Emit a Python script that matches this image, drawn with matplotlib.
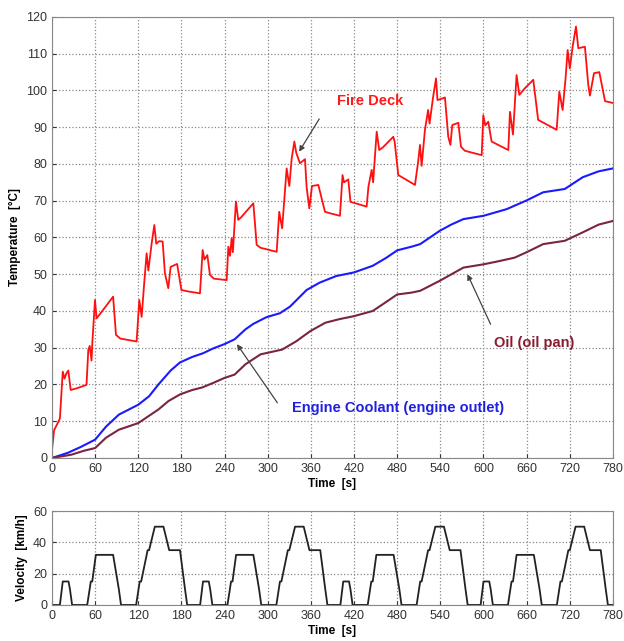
import numpy as np
import matplotlib
matplotlib.use("Agg")
import matplotlib.pyplot as plt

plt.rcParams['font.family'] = ['Liberation Sans', 'DejaVu Sans']

# fire deck temperature (time s, deg C)
deck_t = [0, 3, 9, 11, 15, 17.5, 20, 22.7, 26, 35, 48, 50.5, 52.5, 55, 56, 59.8, 62, 68, 85, 89, 95,
          117.7, 121.4, 124.7, 128, 131.6, 134, 138.6, 142.3, 145, 149, 153.9, 157, 161.7, 165, 174,
          180, 190, 205.8, 209.5, 212, 216, 219.7, 225, 242.9, 245.2, 247.5, 249.8, 251.5, 255.8, 259,
          263, 280, 284.6, 290, 312.4, 316, 320, 326.3, 330, 333.3, 337, 339.7, 344.8, 351.8, 354,
          357.8, 361.5, 370.3, 379.6, 386.5, 400.4, 404, 406, 412, 415, 437.5, 440, 444.5, 446.5,
          451.5, 455, 460, 474.6, 476.5, 481.5, 504.7, 509, 511.7, 514, 518.6, 523, 525, 530, 534,
          536, 541, 546.4, 551, 554, 556.6, 565, 568.7, 574, 597.5, 599.7, 602.5, 606.6, 611.3,
          634.5, 636.8, 641, 646, 649.8, 657, 669.2, 676, 701.7, 705.4, 710, 714, 717, 720, 724,
          728.6, 731.8, 741, 745.7, 748, 753.6, 761, 769, 780]
deck_T = [2.2, 7.6, 9.9, 10.8, 23.5, 21.6, 23, 23.8, 18.5, 19, 19.9, 29.4, 30.5, 26.5, 31, 43, 38, 39.5,
          43.9, 33.5, 32.5, 31.7, 43, 38.4, 47, 55.7, 51, 58.4, 63.4, 58.3, 59, 58.9, 50.3, 46.2, 52,
          52.8, 45.7, 45.3, 44.8, 56.6, 54, 55.2, 49.8, 48.8, 48.4, 57.5, 55, 59.8, 56, 69.8, 64.8,
          65.5, 69.3, 58, 57.2, 56.1, 67, 62.5, 78.8, 74, 81.5, 86.1, 83, 80.2, 81.3, 73.8, 67.9, 74,
          74.3, 67, 66.6, 65.9, 77, 75, 75.8, 69.7, 68.4, 73.8, 78.4, 75, 88.8, 83.8, 84.5, 87.4, 86,
          77, 74.3, 80.4, 85.2, 79.5, 89.3, 94.7, 91, 98.3, 103.3, 97.4, 97.7, 98.1, 87.4, 85.2, 90.6,
          91.2, 84.7, 83.6, 82.4, 93.3, 90.5, 91.5, 86.1, 83.8, 94.2, 88, 104.2, 98.8, 100.5, 102.9,
          92, 89.3, 99.7, 94.7, 103, 111, 106, 112, 117.4, 111.5, 111.9, 101.5, 98.6, 104.7, 105,
          97.1, 96.6]

# coolant at engine outlet
cool_t = [0, 22, 40, 60, 75, 93, 120, 135, 148, 165, 178, 195, 210, 224, 240, 254, 269, 280, 298, 317,
          331, 354, 372, 395, 420, 446, 465, 480, 500, 512, 539, 555, 572, 600, 632, 659, 683, 713,
          738, 760, 780]
cool_T = [0, 1.4, 3, 5, 8.5, 11.8, 14.5, 16.8, 20, 23.8, 26, 27.5, 28.5, 29.8, 31, 32.3, 35, 36.5, 38.3,
          39.4, 41.2, 45.7, 47.7, 49.5, 50.5, 52.3, 54.5, 56.5, 57.5, 58.2, 61.8, 63.5, 65, 65.9, 67.7,
          70, 72.3, 73.2, 76.4, 78, 78.8]

# oil pan
oil_t = [0, 27, 45, 60, 75, 93, 120, 148, 162, 178, 195, 209, 225, 240, 254, 269, 290, 320, 340, 359,
         380, 400, 420, 446, 465, 480, 500, 512, 539, 572, 600, 620, 643, 659, 683, 713, 738, 760, 780]
oil_T = [0, 0.9, 2, 2.7, 5.5, 7.7, 9.5, 13.2, 15.5, 17.3, 18.5, 19.2, 20.5, 21.8, 22.7, 25.5, 28.2,
         29.5, 31.8, 34.5, 36.8, 37.8, 38.6, 40, 42.5, 44.5, 45, 45.5, 48.2, 51.8, 52.7, 53.5, 54.5,
         55.9, 58.2, 59.1, 61.4, 63.5, 64.5]

# one ECE-15 urban cycle (195 s), driven four times
cycle_t = [0, 11, 15, 23, 25, 28, 49, 54, 56, 61, 85, 93, 96, 117, 122, 124, 133, 135, 143, 155,
           163, 176, 178, 185, 188, 195]
cycle_v = [0, 0, 15, 15, 10, 0, 0, 15, 15, 32, 32, 10, 0, 0, 15, 15, 35, 35, 50, 50,
           35, 35, 35, 10, 0, 0]
n_cycles = 4
cycle_len = 195

vel_t = []
vel_v = []
for k in range(n_cycles):
    vel_t += [x + k * cycle_len for x in cycle_t]
    vel_v += cycle_v

xticks = list(range(0, 781, 60))

fig = plt.figure(figsize=(6.24, 6.41), dpi=100)
ax = fig.add_axes([0.0833, 0.2855, 0.899, 0.688])
ax2 = fig.add_axes([0.0833, 0.0562, 0.899, 0.1466])

for a in (ax, ax2):
    a.set_xlim(0, 780)
    a.set_xticks(xticks)
    a.grid(True, color='#888888', linestyle=':', linewidth=0.9)
    a.tick_params(direction='in', labelsize=9, length=3, colors='#333333')
    for s in a.spines.values():
        s.set_color('#888888')
        s.set_linewidth(0.8)
    a.set_xlabel('Time  [s]', fontsize=8.5, fontweight='bold', labelpad=2)

ax.plot(deck_t, deck_T, color='#ff1010', lw=1.3)
ax.plot(cool_t, cool_T, color='#1a1aff', lw=1.5)
ax.plot(oil_t, oil_T, color='#7a2445', lw=1.5)
ax.set_ylim(0, 120)
ax.set_yticks(range(0, 121, 10))
ax.set_ylabel('Temperature  [°C]', fontsize=8.5, fontweight='bold', labelpad=4)

# labels with pointer arrows
arrow = dict(arrowstyle='-|>', color='#444444', lw=0.9, mutation_scale=8)
ax.annotate('', xy=(341.6, 82.7), xytext=(373.6, 92.9), arrowprops=arrow)
ax.text(442, 97.1, 'Fire Deck', color='#ff1a1a', fontsize=10.5, fontweight='bold',
        ha='center', va='center')
ax.annotate('', xy=(255, 31.6), xytext=(315.6, 14.4), arrowprops=arrow)
ax.text(334, 13.6, 'Engine Coolant (engine outlet)', color='#2020e0', fontsize=10.5,
        fontweight='bold', ha='left', va='center')
ax.annotate('', xy=(576, 50.7), xytext=(611.5, 35.7), arrowprops=arrow)
ax.text(614, 31.3, 'Oil (oil pan)', color='#8a1c30', fontsize=10.5, fontweight='bold',
        ha='left', va='center')

ax2.plot(vel_t, vel_v, color='#222222', lw=1.3)
ax2.set_ylim(0, 60)
ax2.set_yticks([0, 20, 40, 60])
ax2.set_ylabel('Velocity  [km/h]', fontsize=8.5, fontweight='bold', labelpad=4)

fig.savefig('out.png', dpi=100)
